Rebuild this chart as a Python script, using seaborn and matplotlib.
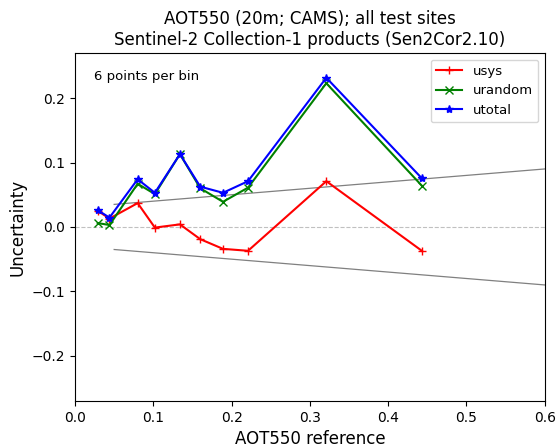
import matplotlib
matplotlib.use("Agg")
import matplotlib.pyplot as plt
import seaborn as sns
import numpy as np
import pandas as pd

aot_ref = [0.029, 0.044, 0.080, 0.102, 0.134, 0.160, 0.189, 0.221, 0.321, 0.443]
usys = [0.025, 0.013, 0.037, -0.001, 0.004, -0.019, -0.034, -0.037, 0.071, -0.037]
urandom = [0.006, 0.003, 0.067, 0.051, 0.113, 0.060, 0.039, 0.061, 0.223, 0.064]
utotal = [0.026, 0.0145, 0.074, 0.053, 0.113, 0.0625, 0.053, 0.071, 0.2315, 0.0755]

req_x = [0.05, 0.6]

fig = plt.figure(figsize=(5.57, 4.45), dpi=100)
ax = fig.add_axes([0.1347, 0.099, 0.8433, 0.782])

req_x_arr = np.array(req_x)
ax.plot(req_x_arr, 0.03 + 0.1 * req_x_arr, color="gray", lw=0.9)
ax.plot(req_x_arr, -(0.03 + 0.1 * req_x_arr), color="gray", lw=0.9)
ax.axhline(0, color="silver", lw=0.8, ls="--")

series = [("usys", usys, "red", "+"), ("urandom", urandom, "green", "x"), ("utotal", utotal, "blue", "*")]
for name, vals, col, mk in series:
    df = pd.DataFrame({"x": aot_ref, "y": vals})
    sns.lineplot(data=df, x="x", y="y", ax=ax, color=col, marker=mk, markersize=6,
                 markeredgecolor=col, markeredgewidth=1.0, lw=1.5, label=name, sort=False)

ax.set_xlim(0, 0.6)
ax.set_ylim(-0.27, 0.27)
ax.set_xticks([0.0, 0.1, 0.2, 0.3, 0.4, 0.5, 0.6])
ax.set_yticks([-0.2, -0.1, 0.0, 0.1, 0.2])
ax.set_xlabel("AOT550 reference", fontsize=12)
ax.set_ylabel("Uncertainty", fontsize=12)
ax.set_title("AOT550 (20m; CAMS); all test sites\nSentinel-2 Collection-1 products (Sen2Cor2.10)", fontsize=12)
ax.text(0.04, 0.95, "6 points per bin", transform=ax.transAxes, fontsize=9.5, va="top")
ax.legend(loc="upper right", fontsize=9.5)

fig.savefig("out.png", dpi=100)
